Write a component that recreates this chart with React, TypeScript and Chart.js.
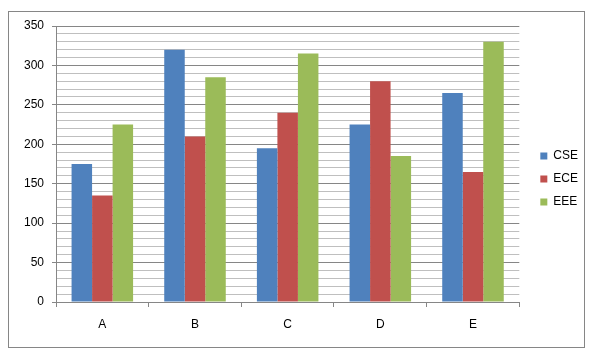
import React, { useEffect, useRef } from "react";
import { Chart, registerables } from "chart.js";

Chart.register(...registerables);

const categories = ["A", "B", "C", "D", "E"];
const cseValues = [175, 320, 195, 225, 265];
const eceValues = [135, 210, 240, 280, 165];
const eeeValues = [225, 285, 315, 185, 330];
const seriesNames = ["CSE", "ECE", "EEE"];
const seriesColors = ["#4F81BD", "#C0504D", "#9BBB59"];

const FONT = "'Liberation Sans', Arial, sans-serif";

const borderPlugin = {
  id: "outerBorder",
  beforeDraw(chart: any) {
    const ctx = chart.ctx;
    ctx.save();
    ctx.fillStyle = "#ffffff";
    ctx.fillRect(0, 0, chart.width, chart.height);
    ctx.strokeStyle = "#868686";
    ctx.lineWidth = 1;
    ctx.strokeRect(8.5, 11.5, 576, 336);
    ctx.restore();
  },
};

export default function App() {
  const ref = useRef<HTMLCanvasElement | null>(null);

  useEffect(() => {
    if (!ref.current) return;
    const values = [cseValues, eceValues, eeeValues];
    const chart = new Chart(ref.current, {
      type: "bar",
      data: {
        labels: categories,
        datasets: seriesNames.map((name, i) => ({
          label: name,
          data: values[i],
          backgroundColor: seriesColors[i],
          borderWidth: 0,
          categoryPercentage: 0.664,
          barPercentage: 1,
        })),
      },
      plugins: [borderPlugin],
      options: {
        responsive: false,
        animation: false,
        layout: { padding: { top: 26, bottom: 26, left: 0, right: 13 } },
        plugins: {
          legend: {
            position: "right",
            labels: {
              boxWidth: 7,
              boxHeight: 7,
              padding: 11,
              color: "#000000",
              font: { family: FONT, size: 12 },
            },
          },
          tooltip: { enabled: false },
        },
        scales: {
          x: {
            type: "category",
            offset: true,
            grid: {
              offset: true,
              drawOnChartArea: false,
              drawTicks: true,
              tickLength: 5,
              color: "#868686",
            },
            border: { color: "#868686" },
            ticks: {
              color: "#000000",
              padding: 10,
              font: { family: FONT, size: 12 },
            },
            afterFit: (s: any) => {
              s.height = 30;
            },
          },
          y: {
            type: "linear",
            position: "left",
            min: 0,
            max: 350,
            grid: {
              color: (c: any) => (c.tick && c.tick.value % 50 === 0 ? "#868686" : "#BFBFBF"),
              tickColor: (c: any) => (c.tick && c.tick.value % 50 === 0 ? "#868686" : "rgba(0,0,0,0)"),
              tickLength: 4,
            },
            border: { color: "#868686" },
            ticks: {
              stepSize: 10,
              autoSkip: false,
              padding: 8,
              color: "#000000",
              font: { family: FONT, size: 12 },
              callback: (v: any) => (Number(v) % 50 === 0 ? String(v) : ""),
            },
            afterFit: (s: any) => {
              s.width = 56;
            },
          },
          yR: {
            type: "linear",
            position: "right",
            display: true,
            grid: { display: false },
            border: { display: false },
            ticks: { display: false },
            afterFit: (s: any) => {
              s.width = 10;
            },
          },
        },
      },
    } as any);
    return () => chart.destroy();
  }, []);

  return (
    <div style={{ position: "absolute", left: 0, top: 0, width: 601, height: 358 }}>
      <canvas ref={ref} width={601} height={358} style={{ display: "block" }} />
    </div>
  );
}
